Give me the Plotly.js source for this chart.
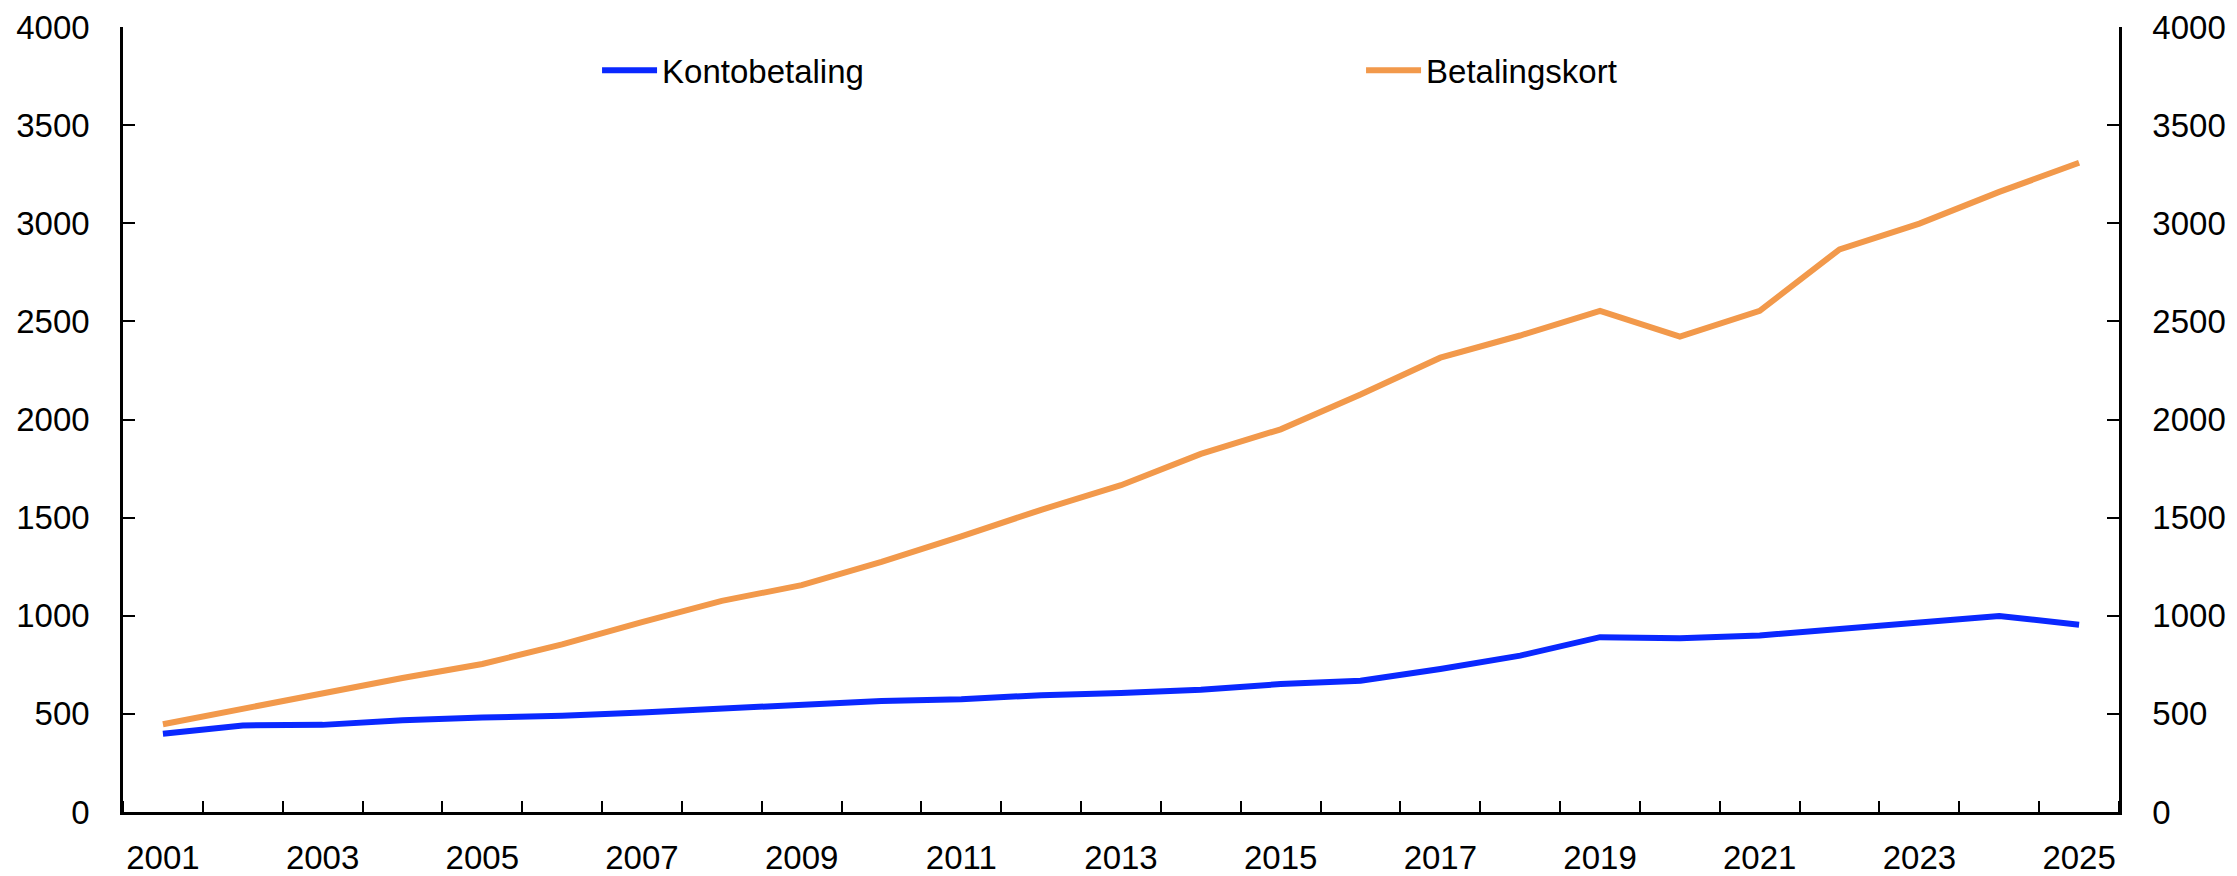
<!DOCTYPE html>
<html>
<head>
<meta charset="utf-8">
<script src="https://cdn.plot.ly/plotly-3.0.1.min.js"></script>
<style>
  html, body { margin: 0; padding: 0; background: #fff; }
  #chart { width: 2237px; height: 876px; }
</style>
</head>
<body>
<div id="chart"></div>
<script>
// ── DATA ────────────────────────────────────────────
const YEARS = [2001, 2002, 2003, 2004, 2005, 2006, 2007, 2008, 2009, 2010, 2011, 2012, 2013,
               2014, 2015, 2016, 2017, 2018, 2019, 2020, 2021, 2022, 2023, 2024, 2025];
const KONTOBETALING = [399, 441, 444, 468, 481, 490, 507, 527, 541, 566, 575, 595, 606,
                       623, 652, 669, 729, 797, 891, 885, 900, 931, 965, 999, 954];
const BETALINGSKORT = [447, 527, 600, 683, 754, 854, 968, 1076, 1156, 1275, 1404, 1540, 1665,
                       1825, 1950, 2127, 2315, 2428, 2554, 2423, 2554, 2867, 2998, 3160, 3308];
const X_LABELS = [2001, 2003, 2005, 2007, 2009, 2011, 2013, 2015, 2017, 2019, 2021, 2023, 2025];
const Y_TICKS  = [0, 500, 1000, 1500, 2000, 2500, 3000, 3500, 4000];

const BLUE   = '#0a28ff';
const ORANGE = '#f2994b';

const AXIS_Y = {
  range: [0, 4000], tickvals: Y_TICKS,
  ticks: 'inside', ticklen: 12, tickwidth: 2, tickcolor: '#000',
  showline: true, linecolor: '#000', linewidth: 2.5,
  showgrid: false, zeroline: false, fixedrange: true,
  ticklabelstandoff: 24
};

const traces = [
  { x: YEARS, y: KONTOBETALING, name: 'Kontobetaling', type: 'scatter', mode: 'lines',
    line: { color: BLUE, width: 6 } },
  { x: YEARS, y: BETALINGSKORT, name: 'Betalingskort', type: 'scatter', mode: 'lines',
    line: { color: ORANGE, width: 6 }, yaxis: 'y2' }
];

const layout = {
  width: 2237, height: 876,
  paper_bgcolor: '#fff', plot_bgcolor: '#fff',
  margin: { l: 123, r: 118, t: 27, b: 64 },
  font: { family: 'Liberation Sans, Arial, sans-serif', size: 33, color: '#000' },
  showlegend: true,
  legend: {
    orientation: 'h', x: 0.2375, y: 0.945, xanchor: 'left', yanchor: 'middle',
    itemwidth: 55,
    entrywidth: 694, entrywidthmode: 'pixels',
    bgcolor: 'rgba(0,0,0,0)', font: { size: 33 }
  },
  xaxis: {
    range: [2000.5, 2025.5], tickvals: X_LABELS, ticks: '',
    showline: true, linecolor: '#000', linewidth: 2.5,
    showgrid: false, zeroline: false, fixedrange: true,
    ticklabelstandoff: 15,
    minor: { tick0: 2000.5, dtick: 1, ticks: 'inside', ticklen: 11, tickwidth: 2,
             tickcolor: '#000', showgrid: false }
  },
  yaxis: { ...AXIS_Y, side: 'left' },
  yaxis2: { ...AXIS_Y, side: 'right', overlaying: 'y' }
};

Plotly.newPlot('chart', traces, layout, { displayModeBar: false, responsive: false });
</script>
</body>
</html>
